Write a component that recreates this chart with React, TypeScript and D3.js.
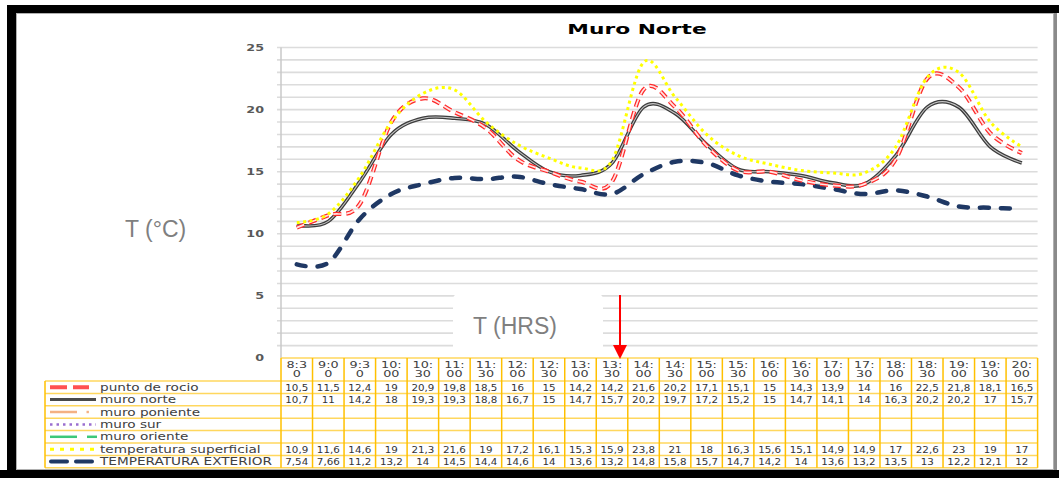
import React from "react";
import * as d3 from "d3";

const times = ["8:30","9:00","9:30","10:00","10:30","11:00","11:30","12:00","12:30","13:00","13:30","14:00","14:30","15:00","15:30","16:00","16:30","17:00","17:30","18:00","18:30","19:00","19:30","20:00"];
const puntoRocio = [10.5,11.5,12.4,19,20.9,19.8,18.5,16,15,14.2,14.2,21.6,20.2,17.1,15.1,15,14.3,13.9,14,16,22.5,21.8,18.1,16.5];
const muroNorte = [10.7,11,14.2,18,19.3,19.3,18.8,16.7,15,14.7,15.7,20.2,19.7,17.2,15.2,15,14.7,14.1,14,16.3,20.2,20.2,17,15.7];
const tempSuperficial = [10.9,11.6,14.6,19,21.3,21.6,19,17.2,16.1,15.3,15.9,23.8,21,18,16.3,15.6,15.1,14.9,14.9,17,22.6,23,19,17];
const tempExterior = [7.54,7.66,11.2,13.2,14,14.5,14.4,14.6,14,13.6,13.2,14.8,15.8,15.7,14.7,14.2,14,13.6,13.2,13.5,13,12.2,12.1,12];
const seriesNames = ["punto de rocio","muro norte","muro poniente","muro sur","muro oriente","temperatura superficial","TEMPERATURA EXTERIOR"];
const seriesValues: (number[] | null)[] = [puntoRocio, muroNorte, null, null, null, tempSuperficial, tempExterior];
const yTicks = [0, 5, 10, 15, 20, 25];
const title = "Muro Norte";
const yTitle = "T (°C)";
const xTitle = "T (HRS)";

const FONT = "'DejaVu Sans', Verdana, sans-serif";
const LABEL_FONT = "'Liberation Sans', Arial, sans-serif";

function SText(p: any) {
  const { x, y, sx = 1, anchor = "start", size = 10, weight = "normal", fill = "#404040", family = FONT, children } = p;
  return (
    <text transform={`translate(${x},${y}) scale(${sx},1)`} textAnchor={anchor} fontSize={size}
      fontWeight={weight} fill={fill} fontFamily={family}>{children}</text>
  );
}

const fmt = (v: number) => String(v).replace(".", ",");

export default function App() {
  const W = 1059, H = 478;
  const left = 281, right = 1037.6, top = 47.5, bottom = 358;
  const x = d3.scaleBand<string>().domain(times).range([left, right]).paddingInner(0).paddingOuter(0);
  const bw = x.bandwidth();
  const cx = (i: number) => (x(times[i]) as number) + bw / 2;
  const y = d3.scaleLinear().domain([0, 25]).range([bottom, top]);
  const line = d3.line<number>().x((_, i) => cx(i)).y(d => y(d)).curve(d3.curveCardinal.tension(0));
  const grid = d3.range(1, 26);
  const rowTop = 381, rowH = 12.4, legLeft = 45;
  const yellowV = "#FFC000", yellowH = "#FFD75E";

  const legendSample = (i: number, yy: number) => {
    const x0 = 50, x1 = 96;
    switch (i) {
      case 0: return <line x1={x0} x2={89} y1={yy} y2={yy} stroke="#FF5050" strokeWidth={4} strokeDasharray="17,6" />;
      case 1: return <line x1={x0} x2={x1} y1={yy} y2={yy} stroke="#4a4a4a" strokeWidth={3} />;
      case 2: return <g><line x1={x0} x2={77} y1={yy} y2={yy} stroke="#F4B183" strokeWidth={2.5} /><rect x={86.5} y={yy - 1.2} width={2.4} height={2.4} fill="#F4B183" /></g>;
      case 3: return <line x1={x0} x2={x1} y1={yy} y2={yy} stroke="#9A6FD0" strokeWidth={2.5} strokeDasharray="2.5,4" />;
      case 4: return <g><line x1={x0} x2={77} y1={yy} y2={yy} stroke="#3CC878" strokeWidth={2.5} /><line x1={87} x2={97} y1={yy} y2={yy} stroke="#3CC878" strokeWidth={2.5} /></g>;
      case 5: return <line x1={x0} x2={x1} y1={yy} y2={yy} stroke="#FFFF00" strokeWidth={3} strokeDasharray="4,6" />;
      default: return <line x1={51} x2={93} y1={yy} y2={yy} stroke="#1F3864" strokeWidth={4} strokeLinecap="round" strokeDasharray="16,9" />;
    }
  };

  return (
    <svg width={W} height={H} style={{ position: "absolute", left: 0, top: 0, background: "#fff" }}>
      <rect x={0} y={0} width={W} height={H} fill="#fff" />
      {/* frame */}
      <rect x={7} y={5} width={W - 7} height={8} fill="#000" />
      <rect x={7} y={5} width={9} height={H - 5} fill="#000" />
      <rect x={0} y={470} width={W} height={8} fill="#000" />
      <rect x={1054} y={13} width={3} height={457} fill="#8a8a8a" />
      <rect x={16.5} y={13.5} width={1037} height={456} fill="none" stroke="#b0b0b0" strokeWidth={1} />

      {/* title */}
      <SText x={637} y={34} sx={1.5} anchor="middle" size={14.5} weight="bold" fill="#000">{title}</SText>

      {/* gridlines */}
      {grid.map(g => (
        <line key={g} x1={left - 4} x2={right} y1={y(g)} y2={y(g)} stroke="#dcdcdc" strokeWidth={1.6} />
      ))}
      <line x1={left} x2={left} y1={top} y2={bottom} stroke="#c8c8c8" strokeWidth={1.5} />
      {yTicks.map(t => (
        <SText key={t} x={264} y={y(t) + 3} sx={1.55} anchor="end" size={8.2} weight="bold" fill="#595959">{t}</SText>
      ))}

      {/* T (HRS) box */}
      <rect x={453} y={294} width={150} height={63} rx={5} fill="#fff" />
      <text x={473} y={334} fontSize={23} fill="#7f7f7f" fontFamily={LABEL_FONT}>{xTitle}</text>
      <text x={125} y={237} fontSize={23} fill="#7f7f7f" fontFamily={LABEL_FONT}>{yTitle}</text>

      {/* series */}
      <path d={line(tempExterior) as string} fill="none" stroke="#1F3864" strokeWidth={4.5} strokeLinecap="round" strokeDasharray="9,12" />
      <path d={line(muroNorte) as string} fill="none" stroke="#3c3c3c" strokeWidth={3.6} />
      <path d={line(muroNorte) as string} fill="none" stroke="#c4c4c4" strokeWidth={1.1} />
      <path d={line(puntoRocio) as string} fill="none" stroke="#FF2A2A" strokeWidth={4.2} strokeDasharray="8,5" />
      <path d={line(puntoRocio) as string} fill="none" stroke="#FFE4E4" strokeWidth={1.7} strokeDasharray="8,5" />
      <path d={line(tempSuperficial) as string} fill="none" stroke="#FFFF00" strokeWidth={3} strokeDasharray="3,3.5" />

      {/* table */}
      <line x1={left} x2={right} y1={bottom} y2={bottom} stroke={yellowH} strokeWidth={1.5} />
      {d3.range(0, 8).map(k => (
        <line key={k} x1={legLeft} x2={right} y1={rowTop + k * rowH} y2={rowTop + k * rowH} stroke={yellowH} strokeWidth={1.5} />
      ))}
      <line x1={legLeft} x2={legLeft} y1={rowTop} y2={rowTop + 7 * rowH} stroke={yellowV} strokeWidth={1.5} />
      {d3.range(0, times.length + 1).map(k => (
        <line key={k} x1={left + k * bw} x2={left + k * bw} y1={bottom} y2={rowTop + 7 * rowH} stroke={yellowV} strokeWidth={1.5} />
      ))}
      {times.map((t, i) => (
        <g key={t}>
          <SText x={cx(i)} y={367.5} sx={1.45} anchor="middle" size={8.8} fill="#404040">{t.slice(0, 3)}</SText>
          <SText x={cx(i)} y={377} sx={1.45} anchor="middle" size={8.8} fill="#404040">{t.slice(3)}</SText>
        </g>
      ))}
      {seriesNames.map((n, r) => {
        const yy = rowTop + r * rowH + rowH / 2;
        const vals = seriesValues[r];
        return (
          <g key={n}>
            {legendSample(r, yy)}
            <SText x={100} y={yy + 3.6} sx={1.3} size={10.5} fill="#404040">{n}</SText>
            {vals && vals.map((v, i) => (
              <SText key={i} x={cx(i)} y={yy + 3.4} sx={1.12} anchor="middle" size={9.2} fill="#333">{fmt(v)}</SText>
            ))}
          </g>
        );
      })}

      {/* red arrow */}
      <line x1={620} x2={620} y1={295} y2={347} stroke="#FF0000" strokeWidth={2} />
      <path d="M613,345 L627,345 L620,359 Z" fill="#FF0000" />
    </svg>
  );
}
